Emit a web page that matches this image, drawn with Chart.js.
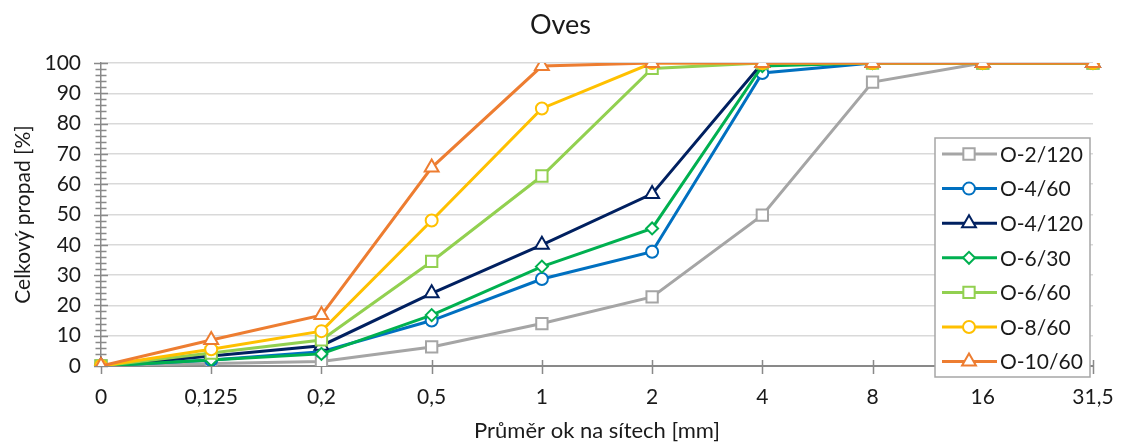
<!DOCTYPE html>
<html>
<head>
<meta charset="utf-8">
<script src="https://cdn.jsdelivr.net/npm/chart.js@4/dist/chart.umd.min.js"></script>
<style>
  html, body { margin: 0; padding: 0; background: #fff; }
  #wrap { width: 1121px; height: 445px; }
</style>
</head>
<body>
<div id="wrap"><canvas id="sieveChart" width="1121" height="445"></canvas></div>
<script>
// sieve openings (x tick labels) and passing percentages per sample
const chartTitle = 'Oves';
const sieveSizes = ['0', '0,125', '0,2', '0,5', '1', '2', '4', '8', '16', '31,5'];
const seriesNames = ['O-2/120', 'O-4/60', 'O-4/120', 'O-6/30', 'O-6/60', 'O-8/60', 'O-10/60'];
const o2_120 = [0, 0.8, 1.5, 6.3, 14, 22.8, 49.8, 93.7, 100, 100];
const o4_60 = [0, 2, 4.7, 15, 28.7, 37.7, 96.7, 100, 100, 100];
const o4_120 = [0, 3.3, 6.7, 24, 40, 56.8, 100, 100, 100, 100];
const o6_30 = [0, 2, 4, 16.8, 32.8, 45.4, 99, 100, 100, 100];
const o6_60 = [0, 4.3, 8.6, 34.5, 62.7, 98.2, 100, 100, 100, 100];
const o8_60 = [0, 5.5, 11.5, 48, 85, 100, 100, 100, 100, 100];
const o10_60 = [0, 8.6, 16.8, 65.5, 99, 100, 100, 100, 100, 100];
const seriesValues = [o2_120, o4_60, o4_120, o6_30, o6_60, o8_60, o10_60];

const seriesColors = ['#a5a5a5', '#0070c0', '#002060', '#00b050', '#92d050', '#ffc000', '#ed7d31'];
const seriesMarkers = ['rect', 'circle', 'triangle', 'rectRot', 'rect', 'circle', 'triangle'];
const markerRadius = { rect: 8, circle: 6, triangle: 8, rectRot: 6 };

const FONT = 'Lato, "Liberation Sans", sans-serif';
const TEXT = '#1a1a1a';
const AXIS = '#898989';

// title centred on the whole canvas, like the Excel original
const pageTitle = {
  id: 'pageTitle',
  afterDraw(chart) {
    const ctx = chart.ctx;
    ctx.save();
    ctx.font = '27px ' + FONT;
    ctx.fillStyle = TEXT;
    ctx.textAlign = 'center';
    ctx.textBaseline = 'middle';
    ctx.fillText(chartTitle, chart.width / 2, 25);
    ctx.restore();
  }
};

// Excel style tick marks that cross the axis lines, plus minor y ticks
const crossTicks = {
  id: 'crossTicks',
  beforeDatasetsDraw(chart) {
    const ctx = chart.ctx;
    const x = chart.scales.x, y = chart.scales.y;
    const area = chart.chartArea;
    ctx.save();
    ctx.strokeStyle = AXIS;
    ctx.lineWidth = 1.5;
    ctx.beginPath();
    for (let v = 0; v <= 100; v += 2) {
      const py = Math.round(y.getPixelForValue(v)) + 0.5;
      const len = v % 10 === 0 ? 7 : 5.5;
      ctx.moveTo(area.left - len, py);
      ctx.lineTo(area.left + len, py);
    }
    for (let i = 0; i < sieveSizes.length; i++) {
      const px = Math.round(x.getPixelForValue(i)) + 0.5;
      ctx.moveTo(px, area.bottom - 6);
      ctx.lineTo(px, area.bottom + 8);
    }
    ctx.stroke();
    ctx.restore();
  }
};

// boxed legend sitting over the lower right of the plot
const boxLegend = {
  id: 'boxLegend',
  afterDraw(chart) {
    const ctx = chart.ctx;
    const left = 935, top = 138, w = 155, h = 239;
    ctx.save();
    ctx.fillStyle = '#fff';
    ctx.fillRect(left, top, w, h);
    ctx.strokeStyle = '#a6a6a6';
    ctx.lineWidth = 1.5;
    ctx.strokeRect(left, top, w, h);
    ctx.font = '21px ' + FONT;
    ctx.textBaseline = 'middle';
    seriesNames.forEach((name, i) => {
      const cy = top + 16 + i * 34.6;
      ctx.strokeStyle = seriesColors[i];
      ctx.lineWidth = 3;
      ctx.beginPath();
      ctx.moveTo(left + 7, cy);
      ctx.lineTo(left + 62, cy);
      ctx.stroke();
      ctx.fillStyle = '#fff';
      ctx.lineWidth = 2;
      Chart.helpers.drawPoint(ctx, {
        pointStyle: seriesMarkers[i],
        radius: markerRadius[seriesMarkers[i]],
        rotation: 0,
        borderWidth: 2
      }, left + 34, cy);
      ctx.fillStyle = TEXT;
      ctx.fillText(name, left + 65, cy + 1);
    });
    ctx.restore();
  }
};

const datasets = seriesNames.map((name, i) => ({
  label: name,
  data: seriesValues[i],
  borderColor: seriesColors[i],
  backgroundColor: '#ffffff',
  borderWidth: 3,
  pointStyle: seriesMarkers[i],
  pointRadius: markerRadius[seriesMarkers[i]],
  pointBorderWidth: 2,
  pointBackgroundColor: '#ffffff',
  pointBorderColor: seriesColors[i],
  tension: 0,
  order: seriesNames.length - i
}));

new Chart(document.getElementById('sieveChart'), {
  type: 'line',
  data: { labels: sieveSizes, datasets: datasets },
  options: {
    responsive: false,
    animation: false,
    layout: { padding: { left: 0, right: 28, top: 63, bottom: 0 } },
    plugins: {
      legend: { display: false },
      tooltip: { enabled: false },
      title: { display: false }
    },
    scales: {
      x: {
        offset: false,
        grid: { display: false, drawTicks: false },
        border: { display: true, color: AXIS, width: 2 },
        ticks: { color: TEXT, font: { family: FONT, size: 21 }, padding: 19, maxRotation: 0 },
        title: {
          display: true,
          text: 'Průměr ok na sítech [mm]',
          color: TEXT,
          font: { family: FONT, size: 22 },
          padding: { top: 0, bottom: 1 }
        },
        afterFit(scale) {
          scale.height = 79;
          scale.paddingLeft = 0;
          scale.paddingRight = 0;
        }
      },
      y: {
        min: 0,
        max: 100,
        grid: { color: '#d9d9d9', lineWidth: 1.5, drawTicks: false },
        border: { display: true, color: AXIS, width: 1.5 },
        ticks: { stepSize: 10, color: TEXT, font: { family: FONT, size: 21 }, padding: 20 },
        title: {
          display: true,
          text: 'Celkový propad [%]',
          color: TEXT,
          font: { family: FONT, size: 21 },
          padding: { top: 11, bottom: 0 }
        },
        afterFit(scale) { scale.width = 101; }
      }
    }
  },
  plugins: [crossTicks, boxLegend, pageTitle]
});
</script>
</body>
</html>
